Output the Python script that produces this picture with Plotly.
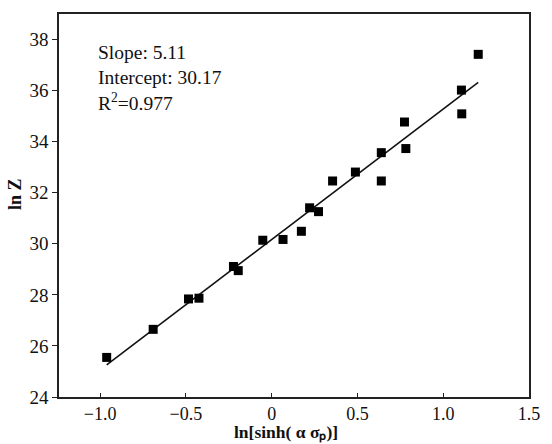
import plotly.graph_objects as go

x_vals = [-0.962, -0.691, -0.485, -0.424, -0.223, -0.195, -0.052, 0.066, 0.173,
          0.221, 0.273, 0.355, 0.488, 0.639, 0.639, 0.774, 0.782, 1.106, 1.108, 1.204]
y_vals = [25.55, 26.65, 27.84, 27.87, 29.11, 28.95, 30.14, 30.17, 30.49,
          31.41, 31.26, 32.46, 32.81, 32.46, 33.57, 34.77, 33.73, 36.02, 35.09, 37.42]
slope = 5.11
intercept = 30.17
r2 = 0.977
x_ticks = [-1.0, -0.5, 0, 0.5, 1.0, 1.5]
x_tick_text = ["\u22121.0", "\u22120.5", "0", "0.5", "1.0", "1.5"]
y_ticks = [24, 26, 28, 30, 32, 34, 36, 38]
x_title = "<b>ln[sinh( \u03b1 \u03c3\u209a)]</b>"
y_title = "<b>ln Z</b>"

FONT = "Liberation Serif"

fit_x = [min(x_vals), max(x_vals)]
fit_y = [intercept + slope * v for v in fit_x]

fig = go.Figure()
fig.add_trace(go.Scatter(x=fit_x, y=fit_y, mode="lines",
                         line=dict(color="#111111", width=1.6), showlegend=False))
fig.add_trace(go.Scatter(x=x_vals, y=y_vals, mode="markers",
                         marker=dict(symbol="square", size=9, color="#000000"),
                         showlegend=False))

fig.add_annotation(xref="paper", yref="paper", x=0.0, y=1.0, xanchor="left", yanchor="top",
                   xshift=37, yshift=-26, align="left", showarrow=False,
                   text=f"Slope: {slope:.2f}<br>Intercept: {intercept:.2f}<br>R<sup>2</sup>={r2:.3f}",
                   font=dict(family=FONT, size=19.5, color="#111111"))
fig.add_annotation(xref="paper", yref="paper", x=0.4826, y=0, yshift=-47, borderpad=0,
                   xanchor="center", yanchor="bottom", showarrow=False,
                   text=x_title, font=dict(family=FONT, size=17.5, color="#111111"))
fig.add_annotation(xref="paper", yref="paper", x=0, y=0.53, xshift=-44,
                   xanchor="center", yanchor="middle", showarrow=False, textangle=-90,
                   text=y_title, font=dict(family=FONT, size=18, color="#111111"))

fig.update_layout(
    width=552, height=444,
    margin=dict(l=59, r=14, t=13, b=47),
    paper_bgcolor="white", plot_bgcolor="white",
    font=dict(family=FONT, size=19, color="#111111"),
    xaxis=dict(range=[-1.24, 1.5], tickvals=x_ticks, ticktext=x_tick_text,
               ticks="inside", ticklen=4, tickcolor="#222222", tickwidth=1.2,
               showline=True, linecolor="#222222", linewidth=1.5, mirror=True,
               showgrid=False, zeroline=False, tickfont=dict(size=18)),
    yaxis=dict(range=[24, 39], tickvals=y_ticks,
               ticks="outside", ticklen=5, tickcolor="#222222", tickwidth=1.2,
               showline=True, linecolor="#222222", linewidth=1.5, mirror=True,
               showgrid=False, zeroline=False, tickfont=dict(size=19)),
)

fig.write_html("out.html")
